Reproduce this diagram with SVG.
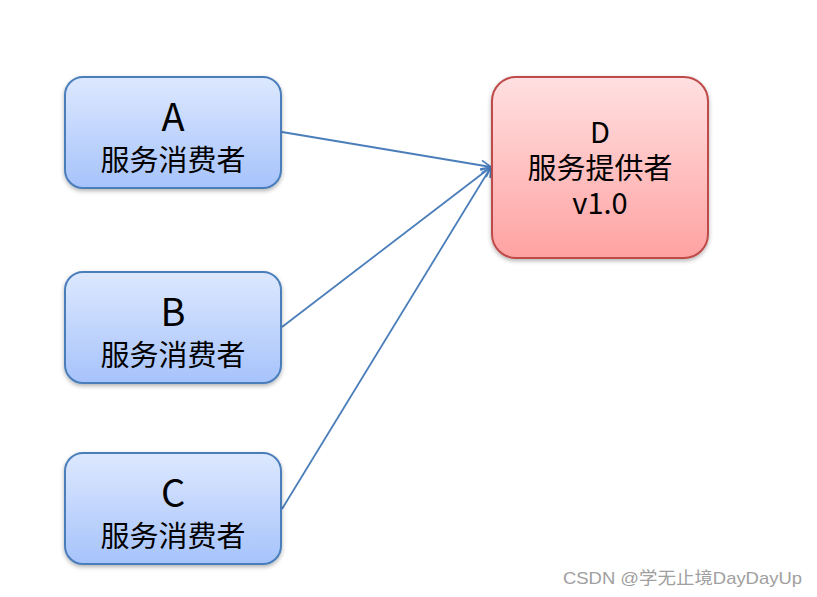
<svg xmlns="http://www.w3.org/2000/svg" width="817" height="597" viewBox="0 0 817 597">
<defs>
<linearGradient id="gb" x1="0" y1="0" x2="0" y2="1"><stop offset="0" stop-color="#dde8fe"/><stop offset="1" stop-color="#a6c3fb"/></linearGradient>
<linearGradient id="gr" x1="0" y1="0" x2="0" y2="1"><stop offset="0" stop-color="#ffe0e1"/><stop offset="1" stop-color="#ffa2a2"/></linearGradient>
<filter id="sh" x="-10%" y="-10%" width="120%" height="130%"><feDropShadow dx="0" dy="2" stdDeviation="2" flood-color="#000" flood-opacity="0.3"/></filter>
<marker id="ar" viewBox="0 0 12 12" refX="11" refY="6" markerWidth="12" markerHeight="12" markerUnits="userSpaceOnUse" orient="auto"><path d="M1,1 L11,6 L1,11" fill="none" stroke="#4a7ebb" stroke-width="1.6"/></marker>
<style>
.blue{fill:url(#gb);stroke:#4a7ebb;stroke-width:2;filter:url(#sh)}
.red{fill:url(#gr);stroke:#be4b48;stroke-width:2;filter:url(#sh)}
.t{font-family:"Noto Sans CJK SC","Noto Sans",sans-serif;fill:#000;text-anchor:middle}
.big{font-size:38px}
.mid{font-size:29px}
.ln{fill:none;stroke:#4a7ebb;stroke-width:1.8;marker-end:url(#ar)}
</style>
</defs>
<rect width="817" height="597" fill="#fff"/>
<g id="connectors">
<line class="ln" x1="282" y1="132" x2="491" y2="167"/>
<line class="ln" x1="282" y1="327" x2="491" y2="167"/>
<line class="ln" x1="282" y1="509" x2="491" y2="167"/>
</g>
<g id="nodeA">
<rect class="blue" x="65" y="77" width="216" height="111" rx="18"/>
<text class="t big" x="173" y="131">A</text>
<text class="t mid" x="173" y="171">服务消费者</text>
</g>
<g id="nodeB">
<rect class="blue" x="65" y="272" width="216" height="111" rx="18"/>
<text class="t big" x="173" y="326">B</text>
<text class="t mid" x="173" y="366">服务消费者</text>
</g>
<g id="nodeC">
<rect class="blue" x="65" y="453" width="216" height="111" rx="18"/>
<text class="t big" x="173" y="507">C</text>
<text class="t mid" x="173" y="547">服务消费者</text>
</g>
<g id="nodeD">
<rect class="red" x="492" y="77" width="216" height="181" rx="24"/>
<text class="t mid" x="600" y="143">D</text>
<text class="t mid" x="600" y="179">服务提供者</text>
<text class="t mid" x="600" y="214">v1.0</text>
</g>
<text x="563" y="584" font-family="'Liberation Sans','Noto Sans CJK SC',sans-serif" font-size="17" fill="#a0a0a0" textLength="239" lengthAdjust="spacingAndGlyphs">CSDN @学无止境DayDayUp</text>
</svg>
